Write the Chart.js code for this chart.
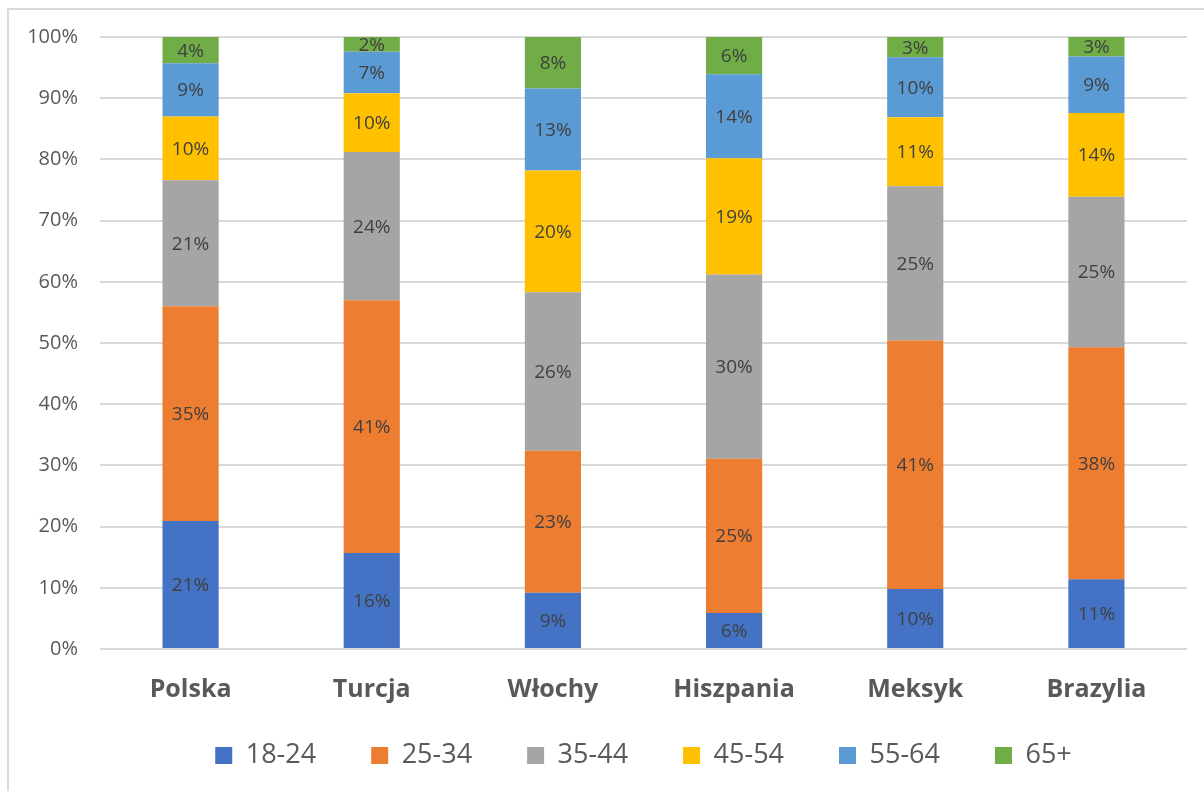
<!DOCTYPE html>
<html>
<head>
<meta charset="utf-8">
<script src="https://cdn.jsdelivr.net/npm/chart.js@4/dist/chart.umd.min.js"></script>
<style>
  html, body { margin: 0; padding: 0; background: #ffffff; }
  #wrap { position: relative; width: 1204px; height: 791px; }
  #frame { position: absolute; left: 7px; top: 8px; width: 1300px; height: 900px;
           border-top: 2px solid #d9d9d9; border-left: 2px solid #d9d9d9; pointer-events: none; }
  canvas { position: absolute; left: 0; top: 0; }
</style>
</head>
<body>
<div id="wrap">
  <canvas id="chart" width="1204" height="791"></canvas>
  <div id="frame"></div>
</div>
<script>
const countries = ['Polska', 'Turcja', 'Włochy', 'Hiszpania', 'Meksyk', 'Brazylia'];
const ageGroups = ['18-24', '25-34', '35-44', '45-54', '55-64', '65+'];
const colors = ['#4472C4', '#ED7D31', '#A5A5A5', '#FFC000', '#5B9BD5', '#70AD47'];

// udział grup wiekowych (%) dla każdego kraju
const age18_24 = [20.9, 15.7, 9.2, 5.9, 9.8, 11.4];
const age25_34 = [35.1, 41.3, 23.2, 25.2, 40.6, 37.9];
const age35_44 = [20.6, 24.2, 25.9, 30.1, 25.2, 24.6];
const age45_54 = [10.4, 9.6, 19.9, 19.0, 11.3, 13.7];
const age55_64 = [8.7, 6.8, 13.4, 13.7, 9.8, 9.2];
const age65plus = [4.3, 2.4, 8.4, 6.1, 3.3, 3.2];

const yTicks = [0, 10, 20, 30, 40, 50, 60, 70, 80, 90, 100];

const FONT = '"Open Sans", Lato, sans-serif';
const seriesValues = [age18_24, age25_34, age35_44, age45_54, age55_64, age65plus];

const datasets = ageGroups.map((name, i) => ({
  label: name,
  data: seriesValues[i],
  backgroundColor: colors[i],
  borderWidth: 0,
  barPercentage: 0.31,
  categoryPercentage: 1.0,
}));

// etykiety wartości w środku słupków
const barLabels = {
  id: 'barLabels',
  afterDatasetsDraw(chart) {
    const ctx = chart.ctx;
    ctx.save();
    ctx.font = '19px ' + FONT;
    ctx.fillStyle = '#404040';
    ctx.textAlign = 'center';
    ctx.textBaseline = 'middle';
    chart.data.datasets.forEach((ds, i) => {
      const meta = chart.getDatasetMeta(i);
      meta.data.forEach((bar, j) => {
        const v = ds.data[j];
        ctx.fillText(Math.round(v) + '%', bar.x, (bar.y + bar.base) / 2 + 1);
      });
    });
    ctx.restore();
  }
};

const ctx = document.getElementById('chart').getContext('2d');
new Chart(ctx, {
  type: 'bar',
  data: { labels: countries, datasets: datasets },
  options: {
    responsive: false,
    animation: false,
    layout: { padding: { left: 0, right: 17, top: 37, bottom: 12 } },
    scales: {
      x: {
        stacked: true,
        grid: { display: false },
        border: { display: false },
        ticks: {
          color: '#595959',
          font: { family: FONT, size: 25, weight: 'bold' },
          // mirror => etykiety nie są przycinane do wysokości osi
          mirror: true,
          padding: -56,
        },
        afterFit(scale) { scale.height = 38; },
      },
      y: {
        stacked: true,
        min: 0,
        max: 100,
        afterBuildTicks(scale) { scale.ticks = yTicks.map(v => ({ value: v })); },
        grid: { color: '#d9d9d9', lineWidth: 2, drawTicks: false },
        border: { display: false },
        ticks: {
          color: '#595959',
          font: { family: FONT, size: 20 },
          padding: 22,
          callback: v => v + '%',
        },
        afterFit(scale) { scale.width = 100; },
      },
    },
    plugins: {
      legend: {
        position: 'bottom',
        fullSize: false,
        labels: {
          boxWidth: 17,
          boxHeight: 17,
          padding: 55,
          color: '#595959',
          font: { family: FONT, size: 27 },
        },
      },
      tooltip: { enabled: false },
    },
  },
  plugins: [barLabels],
});
</script>
</body>
</html>
